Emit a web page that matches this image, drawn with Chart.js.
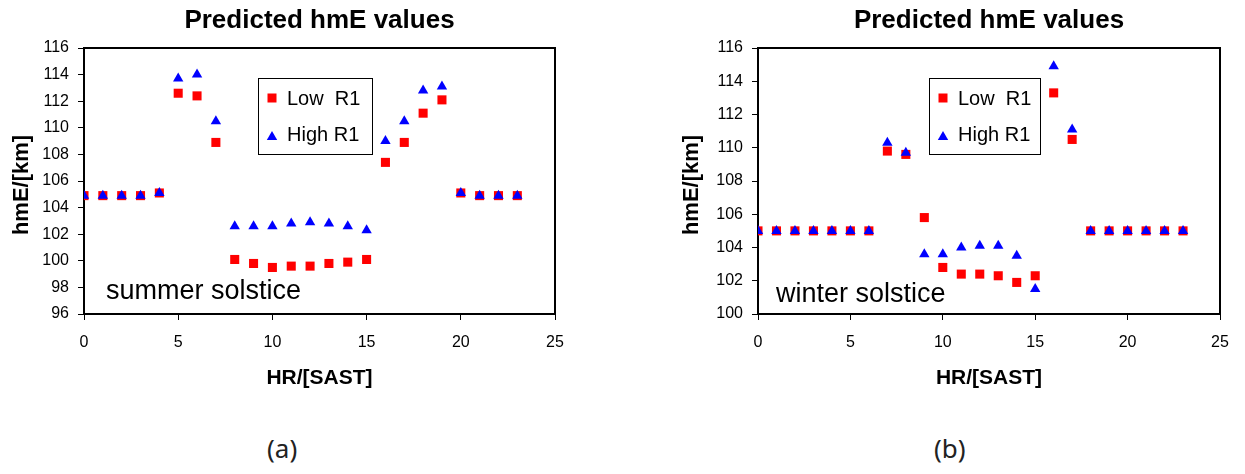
<!DOCTYPE html>
<html>
<head>
<meta charset="utf-8">
<script src="https://cdn.jsdelivr.net/npm/chart.js@4"></script>
<style>
body { margin: 0; background: #fff; width: 1245px; height: 474px; overflow: hidden; position: relative; }
.box { position: absolute; top: 0; height: 400px; }
#boxA { left: 0; width: 622px; }
#boxB { left: 622px; width: 623px; }
.cap { position: absolute; top: 430px; font-family: 'Noto Sans', sans-serif; font-size: 26px; color: #222; }
</style>
</head>
<body>
<div class="box" id="boxA"><canvas id="chartA"></canvas></div>
<div class="box" id="boxB"><canvas id="chartB"></canvas></div>
<div class="cap" style="left:267px">(a)</div>
<div class="cap" style="left:934px">(b)</div>
<script>
// hours of the day
var hours = [0, 1, 2, 3, 4, 5, 6, 7, 8, 9, 10, 11, 12, 13, 14, 15, 16, 17, 18, 19, 20, 21, 22, 23];

// (a) summer solstice
var summerLow = [104.9, 104.9, 104.9, 104.9, 105.1, 112.6, 112.4, 108.9, 100.1, 99.8, 99.5, 99.6,
                 99.6, 99.8, 99.9, 100.1, 107.4, 108.9, 111.1, 112.1, 105.1, 104.9, 104.9, 104.9];
var summerHigh = [104.9, 104.9, 104.9, 104.9, 105.1, 113.7, 114.0, 110.5, 102.6, 102.6, 102.6, 102.8,
                  102.9, 102.8, 102.6, 102.3, 109.0, 110.5, 112.8, 113.1, 105.1, 104.9, 104.9, 104.9];

// (b) winter solstice
var winterLow = [105, 105, 105, 105, 105, 105, 105, 109.8, 109.6, 105.8, 102.8, 102.4,
                 102.4, 102.3, 101.9, 102.3, 113.3, 110.5, 105, 105, 105, 105, 105, 105];
var winterHigh = [105, 105, 105, 105, 105, 105, 105, 110.3, 109.7, 103.6, 103.6, 104.0,
                  104.1, 104.1, 103.5, 101.5, 114.9, 111.1, 105, 105, 105, 105, 105, 105];

// tick labels
var xTicks = [0, 5, 10, 15, 20, 25];
var yTicksA = [96, 98, 100, 102, 104, 106, 108, 110, 112, 114, 116];
var yTicksB = [100, 102, 104, 106, 108, 110, 112, 114, 116];

var FONT = "'Liberation Sans', Arial, sans-serif";

function toPoints(vals) {
    return hours.map(function (h, i) { return { x: h, y: vals[i] }; });
}

function drawSquare(ctx, x, y, s) {
    ctx.fillStyle = '#ff0000';
    ctx.fillRect(x - s / 2, y - s / 2, s, s);
}

function drawTriangle(ctx, x, y, r) {
    ctx.fillStyle = '#0000ff';
    ctx.beginPath();
    ctx.moveTo(x, y - r);
    ctx.lineTo(x + r * 0.866, y + r / 2);
    ctx.lineTo(x - r * 0.866, y + r / 2);
    ctx.closePath();
    ctx.fill();
}

function makeChart(id, low, high, yTicks, note, g) {
    var deco = {
        id: 'deco',
        beforeDatasetsDraw: function (chart) {
            var a = chart.chartArea, ctx = chart.ctx;
            ctx.save();
            ctx.strokeStyle = '#000';
            ctx.lineWidth = 2;
            ctx.strokeRect(a.left, a.top, a.right - a.left, a.bottom - a.top);
            ctx.restore();
        },
        afterDraw: function (chart) {
            var a = chart.chartArea, ctx = chart.ctx;
            var cx = (a.left + a.right) / 2;
            ctx.save();
            ctx.fillStyle = '#000';
            ctx.textBaseline = 'middle';
            ctx.textAlign = 'center';
            ctx.font = 'bold 26px ' + FONT;
            ctx.fillText('Predicted hmE values', cx, a.top - 27);
            ctx.font = 'bold 21px ' + FONT;
            ctx.fillText('HR/[SAST]', cx, a.bottom + 64);
            ctx.save();
            ctx.translate(a.left - g.yTitleGap, (a.top + a.bottom) / 2 + 4);
            ctx.rotate(-Math.PI / 2);
            ctx.font = 'bold 22px ' + FONT;
            ctx.fillText('hmE/[km]', 0, 0);
            ctx.restore();

            // legend box
            var bx = a.left + g.legX, by = a.top + 30;
            ctx.strokeStyle = '#000';
            ctx.lineWidth = 1;
            ctx.strokeRect(bx + 0.5, by + 0.5, g.legW, 76);
            drawSquare(ctx, bx + 14, by + 20, 9);
            drawTriangle(ctx, bx + 14, by + 59, 6);
            ctx.fillStyle = '#000';
            ctx.textAlign = 'left';
            ctx.font = '20px ' + FONT;
            ctx.fillText('Low  R1', bx + 29, by + 21);
            ctx.fillText('High R1', bx + 29, by + 57);

            // season note
            ctx.font = '27px ' + FONT;
            ctx.fillText(note, a.left + g.noteX, a.bottom - g.noteY);
            ctx.restore();
        }
    };

    return new Chart(document.getElementById(id), {
        type: 'scatter',
        data: {
            datasets: [{
                label: 'Low  R1',
                data: toPoints(low),
                pointStyle: 'rect',
                pointRadius: 6.4,
                pointHoverRadius: 6.4,
                backgroundColor: '#ff0000',
                borderWidth: 0,
                order: 1
            }, {
                label: 'High R1',
                data: toPoints(high),
                pointStyle: 'triangle',
                pointRadius: 6,
                pointHoverRadius: 6,
                backgroundColor: '#0000ff',
                borderWidth: 0,
                order: 0
            }]
        },
        options: {
            responsive: true,
            maintainAspectRatio: false,
            animation: false,
            layout: { padding: { top: 48, right: g.padRight, left: 0, bottom: 0 } },
            plugins: { legend: { display: false }, tooltip: { enabled: false } },
            scales: {
                x: {
                    type: 'linear',
                    min: 0,
                    max: 25,
                    afterBuildTicks: function (s) { s.ticks = xTicks.map(function (v) { return { value: v }; }); },
                    afterFit: function (s) { s.height = 86; },
                    ticks: { color: '#000', padding: 13, font: { family: FONT, size: 16 } },
                    grid: { drawOnChartArea: false, drawTicks: true, tickLength: 6, color: '#000' },
                    border: { color: '#000', width: 2 }
                },
                y: {
                    type: 'linear',
                    min: yTicks[0],
                    max: yTicks[yTicks.length - 1],
                    afterBuildTicks: function (s) { s.ticks = yTicks.map(function (v) { return { value: v }; }); },
                    afterFit: function (s) { s.width = g.plotLeft; },
                    ticks: { color: '#000', padding: 9, font: { family: FONT, size: 16 } },
                    grid: { drawOnChartArea: false, drawTicks: true, tickLength: 6, color: '#000' },
                    border: { color: '#000', width: 2 }
                }
            }
        },
        plugins: [deco]
    });
}

makeChart('chartA', summerLow, summerHigh, yTicksA, 'summer solstice',
    { plotLeft: 84, padRight: 67, yTitleGap: 62, legX: 174, legW: 114, noteX: 22, noteY: 22 });
makeChart('chartB', winterLow, winterHigh, yTicksB, 'winter solstice',
    { plotLeft: 136, padRight: 25, yTitleGap: 66, legX: 171, legW: 111, noteX: 18, noteY: 19 });
</script>
</body>
</html>
